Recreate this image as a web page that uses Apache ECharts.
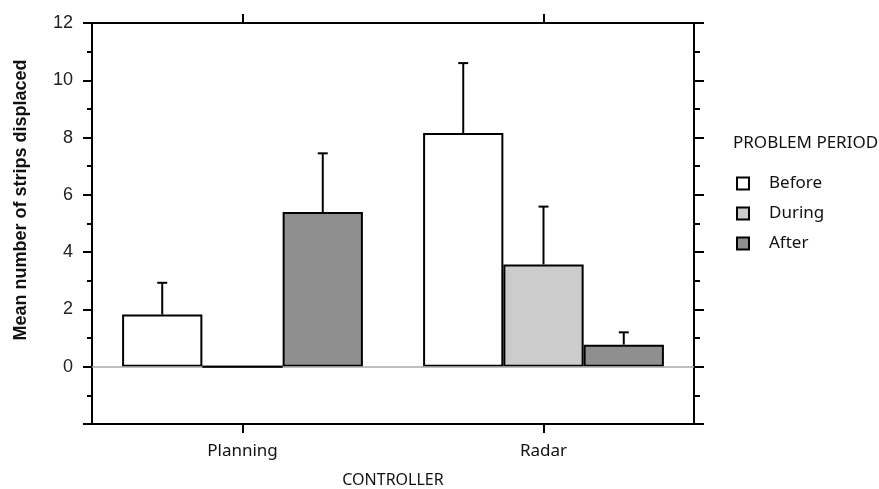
<!DOCTYPE html>
<html><head><meta charset="utf-8">
<script src="https://cdn.jsdelivr.net/npm/echarts@6/dist/echarts.min.js"></script>
<style>html,body{margin:0;padding:0;background:#fff}#c{width:879px;height:489px}</style>
</head><body><div id="c"></div>
<script>
const categories = ['Planning', 'Radar'];
const periods = ['Before', 'During', 'After'];
const beforeVals = [1.82, 8.16];
const duringVals = [0, 3.57];
const afterVals = [5.4, 0.77];
const beforeErr = [2.93, 10.6];
const duringErr = [null, 5.59];
const afterErr = [7.45, 1.2];
const yTickLabels = ['0', '2', '4', '6', '8', '10', '12'];

const colors = ['#ffffff', '#cccccc', '#8f8f8f'];
const vals = [beforeVals, duringVals, afterVals];
const errs = [beforeErr, duringErr, afterErr];
const catFont = 'Noto Sans';

const chart = echarts.init(document.getElementById('c'));

const series = [];
periods.forEach((p, i) => {
  series.push({
    name: p, type: 'bar', data: vals[i], z: 3,
    barGap: '0%', barCategoryGap: '20%',
    itemStyle: { color: colors[i], borderColor: '#000', borderWidth: 2 },
    emphasis: { disabled: true }
  });
});
periods.forEach((p, i) => {
  const d = [];
  categories.forEach((c, k) => {
    const v = vals[i][k];
    const e = errs[i][k] == null ? v : errs[i][k];
    d.push([k, v, e]);
  });
  series.push({
    type: 'custom', z: 5, silent: true, data: d, clip: false,
    encode: { x: 0, y: [1, 2] },
    renderItem: function (params, api) {
      const band = api.size([1, 0])[0];
      const bw = band * 0.8 / 3;
      const off = (i - 1) * bw;
      const v = Number(api.value(1));
      const ev = Number(api.value(2));
      const top = api.coord([api.value(0), v]);
      const x = top[0] + off;
      const st = { stroke: '#000', lineWidth: 2 };
      const children = [];
      if (Math.abs(v) < 1e-9) {
        children.push({ type: 'rect', shape: { x: x - bw / 2, y: top[1] - 1, width: bw, height: 2 }, style: { fill: '#000' } });
      }
      if (ev > v) {
        const e = api.coord([api.value(0), ev]);
        children.push({ type: 'line', shape: { x1: x, y1: top[1], x2: x, y2: e[1] }, style: st });
        children.push({ type: 'line', shape: { x1: x - 5, y1: e[1], x2: x + 5, y2: e[1] }, style: st });
      }
      return { type: 'group', children: children };
    }
  });
});
series.push({
  type: 'line', data: [], z: 1, silent: true,
  markLine: { silent: true, symbol: 'none', label: { show: false },
    lineStyle: { color: '#aaaaaa', width: 1.5, type: 'solid' },
    data: [{ yAxis: 0 }] }
});

const yAxisCommon = {
  type: 'value', min: -2, max: 12, interval: 2,
  axisLine: { show: true, onZero: false, lineStyle: { color: '#000', width: 2 } },
  splitLine: { show: false },
  minorTick: { show: true, splitNumber: 2, length: 5, lineStyle: { color: '#000', width: 2 } },
  minorSplitLine: { show: false }
};

const xTick = { show: true, interval: 0, alignWithLabel: true, inside: false, length: 9, lineStyle: { color: '#000', width: 2 } };

chart.setOption({
  animation: false,
  grid: { left: 92, right: 185, top: 23, bottom: 65, outerBoundsMode: 'none', containLabel: false },
  legend: {
    data: periods, orient: 'vertical', left: 731, top: 170,
    icon: 'rect', itemWidth: 12, itemHeight: 12, itemGap: 13,
    selectedMode: false,
    textStyle: { fontFamily: catFont, fontSize: 17, color: '#111', padding: [0, 0, 0, 15] }
  },
  xAxis: [
    { type: 'category', data: categories, position: 'bottom',
      axisLine: { show: true, onZero: false, lineStyle: { color: '#000', width: 2 } },
      axisTick: xTick,
      axisLabel: { fontFamily: catFont, fontSize: 17, color: '#111', margin: 19, interval: 0 },
      name: 'CONTROLLER', nameLocation: 'middle', nameGap: 48,
      nameTextStyle: { fontFamily: catFont, fontSize: 16, color: '#111' } },
    { type: 'category', data: categories, position: 'top',
      axisLine: { show: true, onZero: false, lineStyle: { color: '#000', width: 2 } },
      axisTick: xTick,
      axisLabel: { show: false } }
  ],
  yAxis: [
    Object.assign({}, yAxisCommon, { position: 'left',
      axisTick: { show: true, length: 9, lineStyle: { color: '#000', width: 2 } },
      axisLabel: { fontFamily: 'Liberation Sans', fontSize: 18, color: '#222', margin: 19,
        formatter: v => (yTickLabels.indexOf(String(v)) >= 0 ? String(v) : '') } }),
    Object.assign({}, yAxisCommon, { position: 'right',
      axisTick: { show: true, length: 10, lineStyle: { color: '#000', width: 2 } },
      minorTick: { show: true, splitNumber: 2, length: 6, lineStyle: { color: '#000', width: 2 } },
      axisLabel: { show: false } })
  ],
  graphic: [
    { type: 'text', x: 21, y: 200, rotation: Math.PI / 2,
      style: { text: 'Mean number of strips displaced', font: 'bold 18px "Liberation Sans"',
        fill: '#111', align: 'center', verticalAlign: 'middle' } },
    { type: 'text', x: 733, y: 143,
      style: { text: 'PROBLEM PERIOD', font: '17px "Noto Sans"', fill: '#111',
        align: 'left', verticalAlign: 'middle' } }
  ],
  series: series
});
</script></body></html>
